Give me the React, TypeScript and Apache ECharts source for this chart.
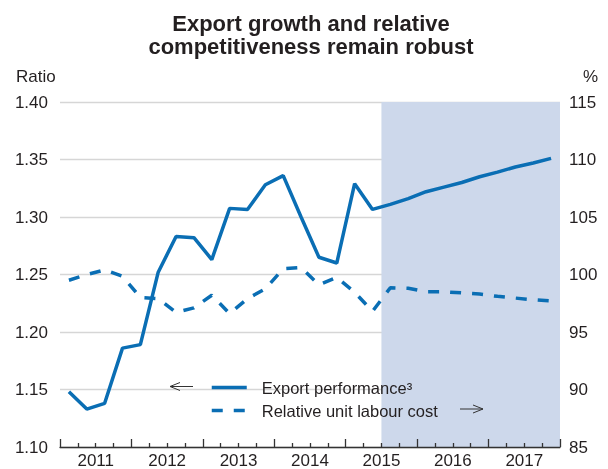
import React, { useEffect, useRef } from 'react';
import * as echarts from 'echarts';

const years = ['2011', '2012', '2013', '2014', '2015', '2016', '2017'];
const exportPerformance = [
  1.148, 1.133, 1.138, 1.186, 1.189, 1.252, 1.283, 1.282, 1.263, 1.3075, 1.3066, 1.328, 1.336, 1.300,
  1.265, 1.260, 1.329, 1.3066, 1.311, 1.316, 1.322, 1.326, 1.330, 1.335, 1.339, 1.3435, 1.347, 1.351,
];
const relativeULC = [
  99.5, 100.0, 100.4, 99.85, 98.0, 97.9, 96.7, 97.1, 98.2, 96.6, 97.9, 98.75, 100.5, 100.6,
  99.1, 99.75, 98.45, 96.8, 98.85, 98.8, 98.5, 98.5, 98.4, 98.3, 98.1, 97.95, 97.8, 97.7,
];
const forecastStartQuarter = 18;
const quarterCount = 28;
const seriesNames = ['Export performance³', 'Relative unit labour cost'];

export default function App() {
  const ref = useRef<HTMLDivElement>(null);
  useEffect(() => {
    const chart = echarts.init(ref.current!, null, { renderer: 'svg' });
    const font = "'Liberation Sans', Arial, Helvetica, sans-serif";
    const ink = '#231f20';
    const blue = '#0a6eb4';
    const axisInk = '#333333';
    chart.setOption({
      animation: false,
      textStyle: { fontFamily: font },
      title: {
        text: 'Export growth and relative\ncompetitiveness remain robust',
        left: 306,
        top: 7,
        textAlign: 'center',
        textStyle: { fontSize: 22, fontWeight: 'bold', lineHeight: 23, color: ink, fontFamily: font },
      },
      grid: { left: 60, right: 48, top: 102, bottom: 20 },
      legend: {
        orient: 'vertical',
        left: 210,
        top: 379,
        padding: 0,
        itemWidth: 35,
        itemHeight: 14,
        itemGap: 6,
        itemStyle: { opacity: 0 },
        lineStyle: { width: 3.5 },
        data: seriesNames,
        textStyle: { fontSize: 16.5, color: ink, lineHeight: 16, padding: [0, 0, 0, 10], fontFamily: font },
      },
      xAxis: [
        {
          type: 'value',
          min: 0,
          max: quarterCount,
          interval: 4,
          z: 1,
          axisLine: { show: true, lineStyle: { color: axisInk, width: 1.3 } },
          axisTick: { show: true, inside: true, length: 8, lineStyle: { color: axisInk, width: 1.3 } },
          minorTick: { show: true, splitNumber: 4, length: 4, lineStyle: { color: axisInk, width: 1.3 } },
          axisLabel: { show: false },
          splitLine: { show: false },
        },
        {
          type: 'category',
          data: years,
          position: 'bottom',
          boundaryGap: true,
          axisLine: { show: false },
          axisTick: { show: false },
          axisLabel: { fontSize: 17, color: ink, margin: 5, fontFamily: font },
          splitLine: { show: false },
        },
      ],
      yAxis: [
        {
          type: 'value',
          min: 1.1,
          max: 1.4,
          interval: 0.05,
          z: 1,
          axisLine: { show: false },
          axisTick: { show: false },
          axisLabel: { formatter: (v: number) => v.toFixed(2), fontSize: 17, color: ink, margin: 12, fontFamily: font },
          splitLine: { show: true, lineStyle: { color: '#d6d6d6', width: 1.3 } },
        },
        {
          type: 'value',
          position: 'right',
          min: 85,
          max: 115,
          interval: 5,
          z: 1,
          axisLine: { show: false },
          axisTick: { show: false },
          axisLabel: { fontSize: 17, color: ink, margin: 9, fontFamily: font },
          splitLine: { show: false },
        },
      ],
      series: [
        {
          type: 'line',
          xAxisIndex: 0,
          yAxisIndex: 0,
          data: [],
          z: 0,
          silent: true,
          markArea: {
            silent: true,
            itemStyle: { color: '#cdd8eb' },
            data: [[{ xAxis: forecastStartQuarter }, { xAxis: quarterCount }]],
          },
        },
        {
          name: seriesNames[0],
          type: 'line',
          xAxisIndex: 0,
          yAxisIndex: 0,
          data: exportPerformance.map((v, i) => [i + 0.5, v]),
          symbol: 'none',
          z: 2,
          lineStyle: { color: blue, width: 3.5 },
          itemStyle: { color: blue },
        },
        {
          name: seriesNames[1],
          type: 'line',
          xAxisIndex: 0,
          yAxisIndex: 1,
          data: relativeULC.map((v, i) => [i + 0.5, v]),
          symbol: 'none',
          z: 2,
          lineStyle: { color: blue, width: 3.5, type: [11, 11] },
          itemStyle: { color: blue },
        },
      ],
      graphic: [
        { type: 'text', x: 16, y: 76, z: 10, style: { text: 'Ratio', fontSize: 17, fontFamily: font, fill: ink, textAlign: 'left', textVerticalAlign: 'middle' } },
        { type: 'text', x: 598, y: 76, z: 10, style: { text: '%', fontSize: 17, fontFamily: font, fill: ink, textAlign: 'right', textVerticalAlign: 'middle' } },
        { type: 'line', z: 10, shape: { x1: 170, y1: 386.5, x2: 193, y2: 386.5 }, style: { stroke: axisInk, lineWidth: 1 } },
        { type: 'polyline', z: 10, shape: { points: [[180, 382.5], [170, 386.5], [180, 390.5]] }, style: { stroke: axisInk, lineWidth: 1, fill: null } },
        { type: 'line', z: 10, shape: { x1: 460, y1: 409, x2: 483, y2: 409 }, style: { stroke: axisInk, lineWidth: 1 } },
        { type: 'polyline', z: 10, shape: { points: [[473, 405], [483, 409], [473, 413]] }, style: { stroke: axisInk, lineWidth: 1, fill: null } },
      ],
    });
    return () => chart.dispose();
  }, []);
  return <div ref={ref} style={{ position: 'fixed', left: 0, top: 0, width: 608, height: 469 }} />;
}
